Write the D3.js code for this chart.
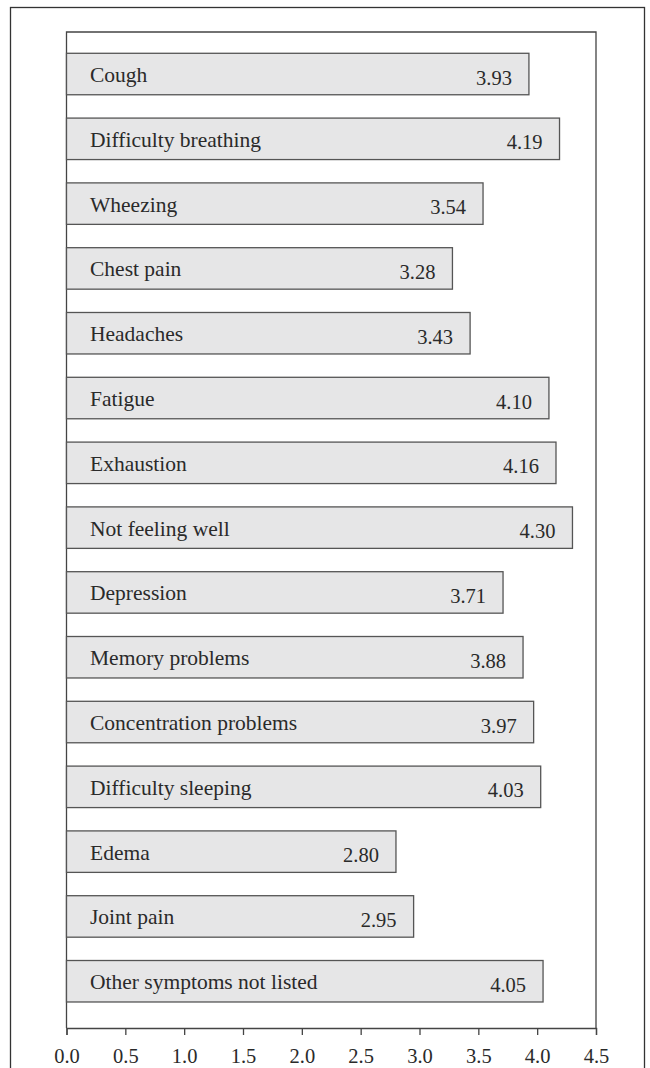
<!DOCTYPE html>
<html>
<head>
<meta charset="utf-8">
<script src="https://cdn.jsdelivr.net/npm/d3@7"></script>
<style>
  body { margin: 0; background: #fff; }
  svg { display: block; }
</style>
</head>
<body>
<div id="chart"></div>
<script>
const symptoms = ['Cough', 'Difficulty breathing', 'Wheezing', 'Chest pain', 'Headaches', 'Fatigue',
  'Exhaustion', 'Not feeling well', 'Depression', 'Memory problems', 'Concentration problems',
  'Difficulty sleeping', 'Edema', 'Joint pain', 'Other symptoms not listed'];
const scores = [3.93, 4.19, 3.54, 3.28, 3.43, 4.10, 4.16, 4.30, 3.71, 3.88, 3.97, 4.03, 2.80, 2.95, 4.05];
const tickValues = [0, 0.5, 1, 1.5, 2, 2.5, 3, 3.5, 4, 4.5];

const width = 650, height = 1068;
const font = '"Liberation Serif", "Times New Roman", serif';
const ink = '#2a2a2a';

const svg = d3.select('#chart').append('svg')
  .attr('width', width)
  .attr('height', height)
  .attr('viewBox', [0, 0, width, height]);

// outer frame, runs off the bottom of the page
svg.append('rect')
  .attr('x', 10.5).attr('y', 7.5)
  .attr('width', 634).attr('height', 1100)
  .attr('fill', 'none').attr('stroke', '#333').attr('stroke-width', 1.3);

const x = d3.scaleLinear().domain([0, 4.5]).range([66.5, 596]);
const y = d3.scaleBand().domain(symptoms).range([32, 1028])
  .paddingInner(0.36).paddingOuter(0.365).align(0.45);

// plot frame: top, left, right
svg.append('path')
  .attr('d', `M${x(0)},1028V${y.range()[0]}H${x(4.5)}V1028`)
  .attr('stroke', '#444').attr('stroke-width', 1.3).attr('fill', 'none');

const bars = svg.append('g');
bars.selectAll('rect')
  .data(symptoms)
  .join('rect')
  .attr('x', x(0))
  .attr('y', d => y(d))
  .attr('width', (d, i) => x(scores[i]) - x(0))
  .attr('height', y.bandwidth())
  .attr('fill', '#e6e6e7')
  .attr('stroke', '#555')
  .attr('stroke-width', 1.3);

bars.selectAll('text.name')
  .data(symptoms)
  .join('text')
  .attr('class', 'name')
  .attr('x', x(0) + 23.5)
  .attr('y', d => y(d) + y.bandwidth() / 2 + 8)
  .attr('font-family', font)
  .attr('font-size', 21.5)
  .attr('fill', ink)
  .text(d => d);

bars.selectAll('text.val')
  .data(symptoms)
  .join('text')
  .attr('class', 'val')
  .attr('x', (d, i) => x(scores[i]) - 17)
  .attr('y', d => y(d) + y.bandwidth() / 2 + 10.5)
  .attr('text-anchor', 'end')
  .attr('font-family', font)
  .attr('font-size', 20.5)
  .attr('fill', ink)
  .text((d, i) => scores[i].toFixed(2));

const axis = svg.append('g')
  .attr('transform', 'translate(0,1028)')
  .call(d3.axisBottom(x).tickValues(tickValues).tickFormat(d3.format('.1f')).tickSize(7).tickPadding(13.5));
axis.select('.domain').attr('stroke', '#444').attr('stroke-width', 1.3);
axis.selectAll('.tick line').attr('stroke', '#444').attr('stroke-width', 1.3);
axis.selectAll('.tick text')
  .attr('font-family', font)
  .attr('font-size', 20.5)
  .attr('fill', ink);
</script>
</body>
</html>
